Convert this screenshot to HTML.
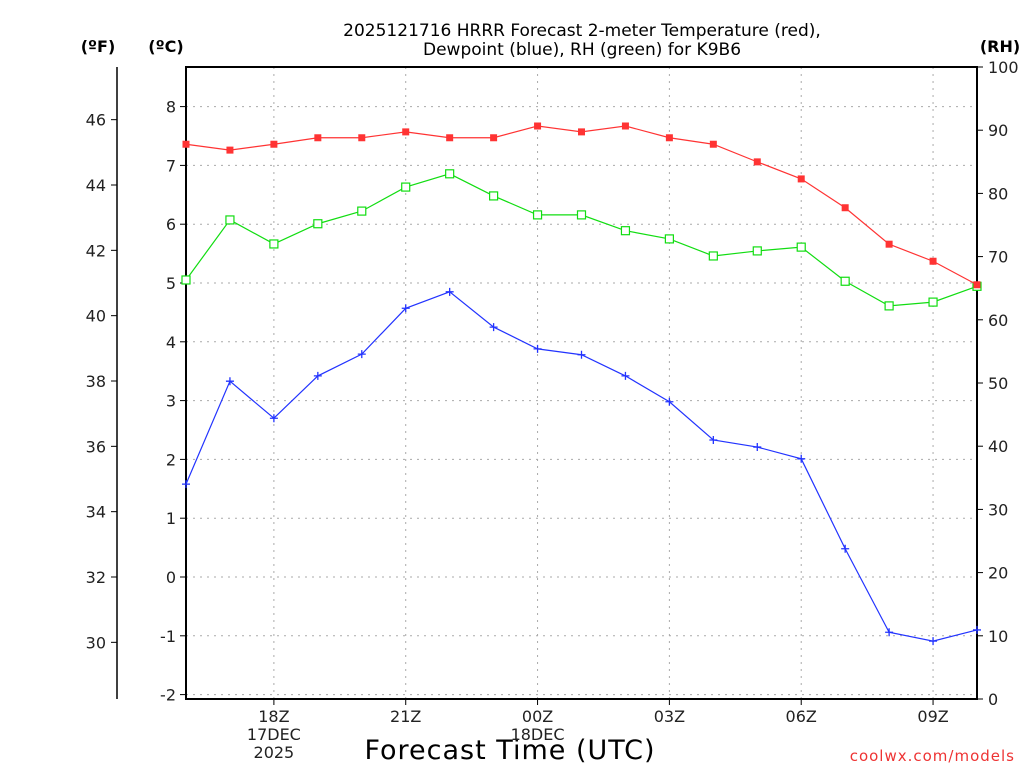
<!DOCTYPE html>
<html><head><meta charset="utf-8"><style>
body{margin:0;background:#fff;}
svg{display:block;font-family:"DejaVu Sans","Liberation Sans",sans-serif;}
</style></head><body>
<svg id="c" width="1024" height="768" xmlns="http://www.w3.org/2000/svg">
<text x="582" y="36" text-anchor="middle" font-size="17" fill="#000">2025121716 HRRR Forecast 2-meter Temperature (red),</text>
<text x="582" y="55" text-anchor="middle" font-size="17" fill="#000">Dewpoint (blue), RH (green) for K9B6</text>
<text x="98" y="52" text-anchor="middle" font-size="16" font-weight="bold">(ºF)</text>
<text x="166" y="52" text-anchor="middle" font-size="16" font-weight="bold">(ºC)</text>
<text x="1000" y="52" text-anchor="middle" font-size="16" font-weight="bold">(RH)</text>
<text x="510" y="759" text-anchor="middle" font-size="27" letter-spacing="1">Forecast Time (UTC)</text>
<text x="1015" y="761" text-anchor="end" font-size="15" fill="#e33" letter-spacing="1">coolwx.com/models</text>
<g id="grid"></g><g id="axes"></g><g id="series"></g>
</svg>
<script>
const hours=["16Z","17Z","18Z","19Z","20Z","21Z","22Z","23Z","00Z","01Z","02Z","03Z","04Z","05Z","06Z","07Z","08Z","09Z","10Z"];
const tempC=[7.36,7.26,7.36,7.47,7.47,7.57,7.47,7.47,7.67,7.57,7.67,7.47,7.36,7.06,6.77,6.28,5.66,5.37,4.97];
const dewC=[1.58,3.33,2.70,3.42,3.79,4.57,4.85,4.25,3.88,3.78,3.42,2.98,2.33,2.21,2.01,0.48,-0.94,-1.09,-0.90];
const rh=[66.3,75.8,72.0,75.2,77.2,81.0,83.1,79.6,76.6,76.6,74.1,72.8,70.1,70.9,71.5,66.1,62.2,62.8,65.3];
const cTicks=[-2,-1,0,1,2,3,4,5,6,7,8];
const fTicks=[30,32,34,36,38,40,42,44,46];
const rhTicks=[0,10,20,30,40,50,60,70,80,90,100];
const xLabels={"18Z":["18Z","17DEC","2025"],"21Z":["21Z"],"00Z":["00Z","18DEC"],"03Z":["03Z"],"06Z":["06Z"],"09Z":["09Z"]};
const NS="http://www.w3.org/2000/svg";
const L=186,R=977,T=67,B=699;
const x=i=>L+i*(R-L)/(hours.length-1);
const yC=c=>577-c*58.8;
const yF=f=>yC((f-32)*5/9);
const yR=r=>B-r*(B-T)/100;
function mk(p,tag,a){const e=document.createElementNS(NS,tag);for(const k in a)e.setAttribute(k,a[k]);document.getElementById(p).appendChild(e);return e;}
const g='#aaa';
cTicks.forEach(c=>{const l=mk('grid','line',{x1:L,x2:R,y1:yC(c),y2:yC(c),stroke:g,'stroke-dasharray':'2,5'});


const tk=mk('axes','line',{x1:L-6,x2:L,y1:yC(c),y2:yC(c),stroke:'#000'});


const t=mk('axes','text',{x:L-10,y:yC(c)+6,'text-anchor':'end','font-size':16,fill:'#222'});t.textContent=c;

});
hours.forEach((h,i)=>{if(!xLabels[h])return;
const l=mk('grid','line',{x1:x(i),x2:x(i),y1:T,y2:B,stroke:g,'stroke-dasharray':'2,5'});


const tk=mk('axes','line',{x1:x(i),x2:x(i),y1:B,y2:B+6,stroke:'#000'});


xLabels[h].forEach((s,j)=>{const t=mk('axes','text',{x:x(i),y:722+j*18,'text-anchor':'middle','font-size':16,fill:'#222'});t.textContent=s;

});});
const fa=mk('axes','line',{x1:117,x2:117,y1:T,y2:B,stroke:'#000','stroke-width':1.5});


fTicks.forEach(f=>{const tk=mk('axes','line',{x1:111,x2:117,y1:yF(f),y2:yF(f),stroke:'#000'});


const t=mk('axes','text',{x:106,y:yF(f)+6,'text-anchor':'end','font-size':16,fill:'#222'});t.textContent=f;

});
rhTicks.forEach(r=>{const tk=mk('axes','line',{x1:R,x2:R+6,y1:yR(r),y2:yR(r),stroke:'#000'});


const t=mk('axes','text',{x:988,y:yR(r)+6,'font-size':16,fill:'#222'});t.textContent=r;

});
const fr=mk('axes','rect',{x:L,y:T,width:R-L,height:B-T,fill:'none',stroke:'#000','stroke-width':2});


function series(vals,yf,col,marker,name){
const pl=mk('series','polyline',{points:vals.map((v,i)=>x(i)+','+yf(v)).join(' '),fill:'none',stroke:col,'stroke-width':1.2});


vals.forEach((v,i)=>{let m;
if(marker==='fill')m=mk('series','rect',{x:x(i)-3.5,y:yf(v)-3.5,width:7,height:7,fill:col});
else if(marker==='open')m=mk('series','rect',{x:x(i)-4,y:yf(v)-4,width:8,height:8,fill:'#fff',stroke:col,'stroke-width':1.2});
else m=mk('series','path',{d:`M${x(i)-4},${yf(v)}h8M${x(i)},${yf(v)-4}v8`,stroke:col,'stroke-width':1.3});

});}
series(rh,yR,'#1d1','open','rh');
series(dewC,yC,'#23f','plus','dewpoint');
series(tempC,yC,'#f33','fill','temperature');
</script>
</body></html>
